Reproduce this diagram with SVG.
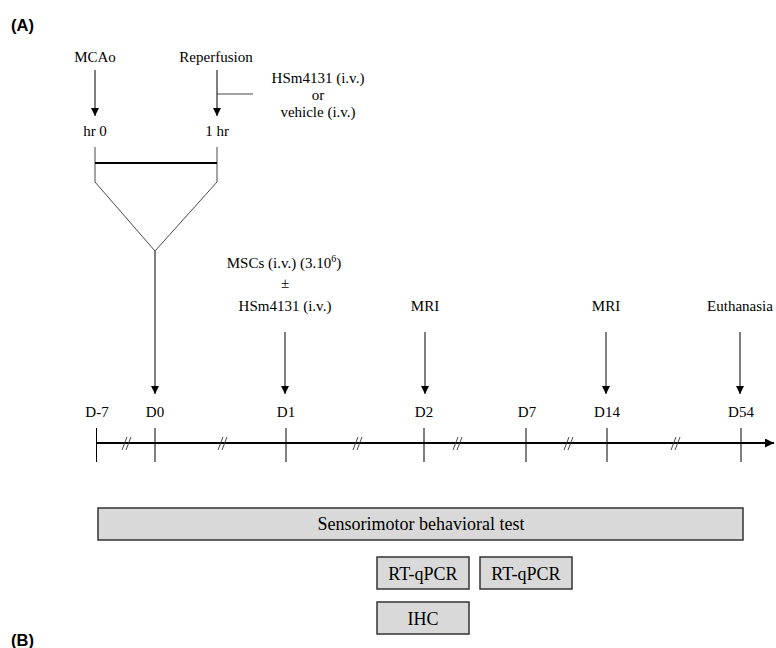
<svg xmlns="http://www.w3.org/2000/svg" width="776" height="648" viewBox="0 0 776 648">
<defs>
<marker id="ah" viewBox="0 0 10 10" refX="10" refY="5" markerWidth="8" markerHeight="8" markerUnits="userSpaceOnUse" orient="auto">
<path d="M0,0 L10,5 L0,10 z" fill="#000"/>
</marker>
<marker id="ahb" viewBox="0 0 10 10" refX="10" refY="5" markerWidth="9" markerHeight="9" markerUnits="userSpaceOnUse" orient="auto">
<path d="M0,0 L10,5 L0,10 z" fill="#000"/>
</marker>
</defs>
<style>
text{font-family:"Liberation Serif","Times New Roman",serif;font-size:15px;fill:#000;text-anchor:middle}
.lbl{font-family:"Liberation Sans",Arial,sans-serif;font-weight:bold;font-size:16.5px;text-anchor:start}
.big{font-size:18px}
.ln{stroke:#000;stroke-width:1;fill:none}
.thin{stroke:#333;stroke-width:0.9;fill:none}
.arr{stroke:#000;stroke-width:1;fill:none;marker-end:url(#ah)}
.box{fill:#d9d9d9;stroke:#333;stroke-width:1.5}
</style>
<rect width="776" height="648" fill="#fff"/>
<text class="lbl" x="11" y="31">(A)</text>
<text class="lbl" x="11" y="646">(B)</text>

<g id="mcao"><text x="95" y="62">MCAo</text></g>
<g id="reperfusion"><text x="216" y="62">Reperfusion</text></g>
<g id="treatment">
<text x="318" y="83">HSm4131 (i.v.)</text>
<text x="318" y="100">or</text>
<text x="318" y="117">vehicle (i.v.)</text>
</g>
<g id="hr0"><text x="95" y="136">hr 0</text></g>
<g id="hr1"><text x="217" y="136">1 hr</text></g>

<g id="msc"><text x="284" y="268">MSCs (i.v.) (3.10<tspan font-size="10" dy="-6">6</tspan><tspan dy="6">)</tspan></text>
<text x="285" y="288">±</text>
<text x="285" y="311">HSm4131 (i.v.)</text></g>
<g id="mri1"><text x="425" y="311">MRI</text></g>
<g id="mri2"><text x="606" y="311">MRI</text></g>
<g id="euth"><text x="740" y="311">Euthanasia</text></g>

<g id="days">
<text x="97" y="417">D-7</text>
<text x="155" y="417">D0</text>
<text x="286" y="417">D1</text>
<text x="424" y="417">D2</text>
<text x="527" y="417">D7</text>
<text x="607" y="417">D14</text>
<text x="741" y="417">D54</text>
</g>

<g id="connectors">
<line class="arr" x1="95" y1="70" x2="95" y2="116"/>
<line class="arr" x1="217" y1="70" x2="217" y2="116"/>
<line class="thin" x1="217" y1="94" x2="253" y2="94"/>
<line class="thin" x1="95" y1="147" x2="95" y2="182"/>
<line class="thin" x1="217" y1="147" x2="217" y2="182"/>
<line x1="95" y1="163" x2="217" y2="163" stroke="#000" stroke-width="2.2"/>
<polyline class="thin" points="95,182 155,251 217,182"/>
<line class="arr" x1="155" y1="251" x2="155" y2="394"/>
<line class="arr" x1="285" y1="332" x2="285" y2="394"/>
<line class="arr" x1="425" y1="332" x2="425" y2="394"/>
<line class="arr" x1="606" y1="332" x2="606" y2="394"/>
<line class="arr" x1="740" y1="332" x2="740" y2="394"/>
</g>

<g id="timeline">
<line x1="96" y1="443" x2="774" y2="443" stroke="#000" stroke-width="2" marker-end="url(#ahb)"/>
<g class="ln">
<line x1="96.5" y1="428" x2="96.5" y2="462"/>
<line x1="155" y1="428" x2="155" y2="462"/>
<line x1="286" y1="428" x2="286" y2="462"/>
<line x1="424" y1="428" x2="424" y2="462"/>
<line x1="526" y1="428" x2="526" y2="462"/>
<line x1="607" y1="428" x2="607" y2="462"/>
<line x1="741" y1="428" x2="741" y2="462"/>
</g>
<g class="thin">
<path d="M122,450 L127,437 M126,450 L131,437"/>
<path d="M218,450 L223,437 M222,450 L227,437"/>
<path d="M353,450 L358,437 M357,450 L362,437"/>
<path d="M453,450 L458,437 M457,450 L462,437"/>
<path d="M564,450 L569,437 M568,450 L573,437"/>
<path d="M671,450 L676,437 M675,450 L680,437"/>
</g>
</g>

<g id="sensorimotor"><rect class="box" x="98" y="508" width="645" height="32"/><text class="big" x="421" y="530">Sensorimotor behavioral test</text></g>
<g id="rtqpcr1"><rect class="box" x="377" y="557" width="92" height="32"/><text class="big" x="423" y="580">RT-qPCR</text></g>
<g id="rtqpcr2"><rect class="box" x="480" y="557" width="92" height="32"/><text class="big" x="526" y="580">RT-qPCR</text></g>
<g id="ihc"><rect class="box" x="377" y="602" width="92" height="32"/><text class="big" x="423" y="625">IHC</text></g>
</svg>
